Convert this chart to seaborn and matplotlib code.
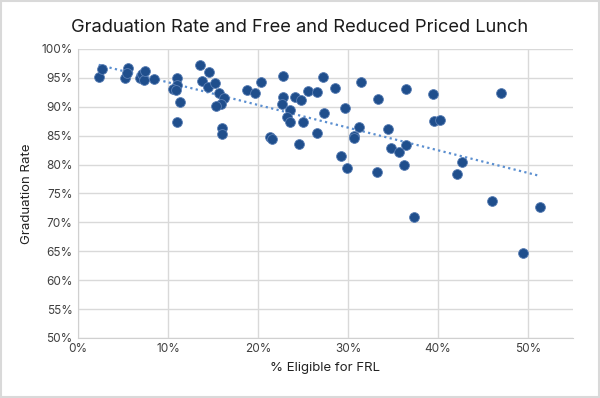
import matplotlib
matplotlib.use("Agg")
import matplotlib.pyplot as plt
import matplotlib.ticker as mticker
import seaborn as sns
import pandas as pd

# % eligible for free/reduced lunch vs graduation rate (both in percent)
frl_pct = [2.3, 2.7, 5.2, 5.5, 5.4, 6.9, 7.15, 7.3, 7.4, 8.4,
           11.0, 11.0, 10.5, 10.85, 11.3, 11.0, 13.6, 14.5, 13.8, 14.4,
           15.2, 15.7, 16.2, 15.9, 15.3, 16.0, 16.0, 18.8, 19.7, 20.3,
           21.3, 21.5, 22.8, 22.8, 22.7, 23.6, 23.2, 23.5, 24.1, 24.8,
           25.0, 24.5, 25.6, 26.6, 27.2, 27.3, 26.5, 28.6, 29.7, 29.2,
           29.9, 31.4, 31.2, 30.7, 30.7, 33.3, 33.2, 34.4, 34.8, 35.7,
           36.4, 36.2, 36.4, 39.4, 39.5, 40.2, 47.0, 42.7, 42.1, 37.3,
           46.0, 51.3, 49.4]
grad_rate = [95.1, 96.5, 95.0, 96.7, 95.9, 94.9, 95.6, 94.7, 96.1, 94.8,
             95.0, 93.8, 93.0, 92.9, 90.8, 87.3, 97.2, 96.0, 94.4, 93.4,
             94.1, 92.3, 91.5, 90.5, 90.1, 86.3, 85.3, 92.9, 92.3, 94.2,
             84.7, 84.4, 95.3, 91.7, 90.5, 89.5, 88.3, 87.3, 91.7, 91.1,
             87.3, 83.6, 92.8, 92.6, 95.1, 89.0, 85.4, 93.2, 89.7, 81.5,
             79.4, 94.2, 86.5, 84.9, 84.6, 91.4, 78.7, 86.2, 82.8, 82.2,
             83.3, 79.9, 93.0, 92.2, 87.6, 87.7, 92.3, 80.5, 78.4, 70.9,
             73.7, 72.6, 64.7]

df = pd.DataFrame({"frl": frl_pct, "grad": grad_rate})

sns.set_style("whitegrid")
plt.rcParams['font.family'] = ['Inter', 'DejaVu Sans']

fig = plt.figure(figsize=(6, 3.98), dpi=100)
ax = fig.add_axes([0.13, 0.151, 0.825, 0.726])

sns.scatterplot(data=df, x="frl", y="grad", ax=ax, s=50, color="#1f4e8c",
                edgecolor="#5b7fb5", linewidth=0.6, zorder=3)
sns.regplot(data=df, x="frl", y="grad", ax=ax, scatter=False, ci=None, truncate=True,
            line_kws={"color": "#5b8fd0", "linestyle": (0, (1, 1.5)), "linewidth": 1.6, "zorder": 2})

ax.set_xlim(0, 55)
ax.set_ylim(50, 100)
ax.xaxis.set_major_locator(mticker.MultipleLocator(10))
ax.yaxis.set_major_locator(mticker.MultipleLocator(5))
ax.xaxis.set_major_formatter(mticker.PercentFormatter(decimals=0))
ax.yaxis.set_major_formatter(mticker.PercentFormatter(decimals=0))
ax.grid(True, color="#d9d9d9", linewidth=1)
for side in ["top", "right"]:
    ax.spines[side].set_visible(False)
for side in ["left", "bottom"]:
    ax.spines[side].set_color("#d0d0d0")
ax.tick_params(axis="both", labelsize=8.5, colors="#404040", length=0, pad=4)
for lab in ax.get_xticklabels() + ax.get_yticklabels():
    lab.set_color("#404040")

ax.set_xlabel("% Eligible for FRL", fontsize=9.5, color="#222222", labelpad=5)
ax.set_ylabel("Graduation Rate", fontsize=9.5, color="#222222", labelpad=6)
fig.suptitle("Graduation Rate and Free and Reduced Priced Lunch", fontsize=13.2,
             color="#1a1a1a", y=0.952)

fig.add_artist(plt.Rectangle((0.002, 0.003), 0.996, 0.994, transform=fig.transFigure,
                             fill=False, edgecolor="#d9d9d9", linewidth=1.5))

fig.savefig("out.png", dpi=100)
